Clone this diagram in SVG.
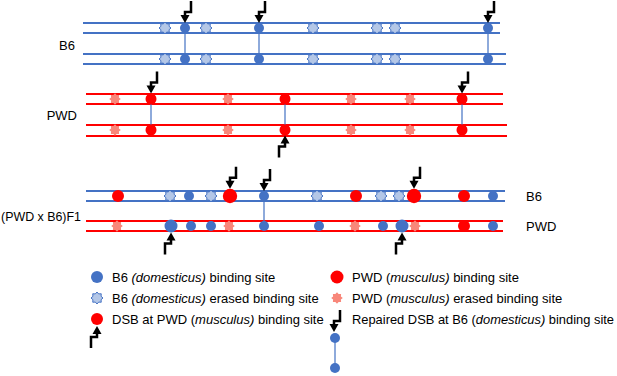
<svg xmlns="http://www.w3.org/2000/svg" xmlns:xlink="http://www.w3.org/1999/xlink" width="617" height="376" viewBox="0 0 617 376">
<style>
text{font-family:"Liberation Sans",Arial,sans-serif;font-size:13px;fill:#000}
.bl{stroke:#4472c4;stroke-width:2;fill:none}
.rl{stroke:#ff0000;stroke-width:2;fill:none}
.lk{stroke:#4472c4;stroke-width:1.2;fill:none}
.bc{fill:#4472c4}
.rc{fill:#ff0000}
</style>
<defs>
<polygon id="es" points="6,0 4.07,1.68 4.24,4.24 1.68,4.07 0,6 -1.68,4.07 -4.24,4.24 -4.07,1.68 -6,0 -4.07,-1.68 -4.24,-4.24 -1.68,-4.07 0,-6 1.68,-4.07 4.24,-4.24 4.07,-1.68" fill="#b4c7e7" stroke="#4472c4" stroke-width="1"/>
<polygon id="ps" points="5.8,0 3.9,1.6 4.1,4.1 1.6,3.9 0,5.8 -1.6,3.9 -4.1,4.1 -3.9,1.6 -5.8,0 -3.9,-1.6 -4.1,-4.1 -1.6,-3.9 0,-5.8 1.6,-3.9 4.1,-4.1 3.9,-1.6" fill="#f8877a"/>
<g id="au">
<polygon points="0,0 -4.5,8 4.5,8" fill="#000"/>
<path d="M0,7 V11 H-6 V22" fill="none" stroke="#000" stroke-width="2.5"/>
</g>
</defs>

<g id="b6-parent">
<path class="bl" d="M83,23 H500 M83,33 H500 M83,54 H506 M83,64 H506"/>
<text x="75" y="50" text-anchor="end" font-size="13.5">B6</text>
<g>
<use href="#es" x="165" y="28"/><use href="#es" x="206" y="28"/><use href="#es" x="313" y="28"/><use href="#es" x="377" y="28"/><use href="#es" x="395" y="28"/>
<use href="#es" x="165" y="59"/><use href="#es" x="206" y="59"/><use href="#es" x="313" y="59"/><use href="#es" x="377" y="59"/><use href="#es" x="395" y="59"/>
</g>
</g>

<g id="pwd-parent">
<path class="rl" d="M86,94 H503 M86,104 H503 M86,125 H507 M86,136 H507"/>
<text x="77" y="120" text-anchor="end" font-size="13.5">PWD</text>
<g>
<use href="#ps" x="115" y="99"/><use href="#ps" x="228" y="99"/><use href="#ps" x="351" y="99"/><use href="#ps" x="410" y="99"/>
<use href="#ps" x="115" y="130"/><use href="#ps" x="228" y="130"/><use href="#ps" x="351" y="130"/><use href="#ps" x="410" y="130"/>
</g>
</g>

<g id="f1-hybrid">
<path class="bl" d="M86,191 H505 M86,201 H505"/>
<path class="rl" d="M86,221 H503 M86,231 H503"/>
<text x="1" y="221" textLength="80" lengthAdjust="spacingAndGlyphs" font-size="13.5">(PWD x B6)F1</text>
<text x="526" y="201" font-size="13.5">B6</text>
<text x="526" y="231" font-size="13.5">PWD</text>
<g>
<use href="#es" x="170" y="196"/><use href="#es" x="211" y="196"/><use href="#es" x="317" y="196"/><use href="#es" x="381" y="196"/><use href="#es" x="399" y="196"/>
<use href="#ps" x="117" y="226"/><use href="#ps" x="229" y="226"/><use href="#ps" x="355" y="226"/><use href="#ps" x="415" y="226"/>
</g>
</g>

<g id="connectors">
<path class="lk" d="M185,28 V59 M259,28 V59 M488,28 V59 M151,99 V130 M285,99 V130 M462,99 V130 M264,196 V226 M335,338 V368"/>
</g>

<g id="binding-sites">
<circle class="bc" cx="185" cy="28" r="5"/><circle class="bc" cx="259" cy="28" r="5"/><circle class="bc" cx="488" cy="28" r="5"/>
<circle class="bc" cx="185" cy="59" r="5"/><circle class="bc" cx="259" cy="59" r="5"/><circle class="bc" cx="488" cy="59" r="5"/>
<circle class="rc" cx="151" cy="99" r="5.5"/><circle class="rc" cx="285" cy="99" r="5.5"/><circle class="rc" cx="462" cy="99" r="5.5"/>
<circle class="rc" cx="151" cy="130" r="5.5"/><circle class="rc" cx="285" cy="130" r="5.5"/><circle class="rc" cx="462" cy="130" r="5.5"/>
<circle class="rc" cx="118" cy="196" r="6"/>
<circle class="bc" cx="189" cy="196" r="5"/>
<circle class="rc" cx="230" cy="196" r="7.2"/>
<circle class="bc" cx="264" cy="196" r="5"/>
<circle class="rc" cx="356" cy="196" r="6"/>
<circle class="rc" cx="414" cy="196" r="7.2"/>
<circle class="rc" cx="464" cy="196" r="6"/>
<circle class="bc" cx="493" cy="196" r="5"/>
<circle class="bc" cx="171" cy="226" r="6.5"/>
<circle class="bc" cx="191" cy="226" r="5"/>
<circle class="bc" cx="211" cy="226" r="5"/>
<circle class="bc" cx="264" cy="226" r="5"/>
<circle class="bc" cx="319" cy="226" r="5"/>
<circle class="bc" cx="383" cy="226" r="5"/>
<circle class="bc" cx="402" cy="226" r="6.5"/>
<circle class="rc" cx="464" cy="226" r="6"/>
<circle class="bc" cx="493" cy="226" r="5"/>
</g>

<g id="dsb-arrows">
<use href="#au" transform="translate(185,23) rotate(180)"/>
<use href="#au" transform="translate(259,23) rotate(180)"/>
<use href="#au" transform="translate(488,23) rotate(180)"/>
<use href="#au" transform="translate(151,93.5) rotate(180)"/>
<use href="#au" transform="translate(462,93.5) rotate(180)"/>
<use href="#au" transform="translate(285,135.5)"/>
<use href="#au" transform="translate(230,188.8) rotate(180)"/>
<use href="#au" transform="translate(264,191) rotate(180)"/>
<use href="#au" transform="translate(414,188.8) rotate(180)"/>
<use href="#au" transform="translate(171,232.5)"/>
<use href="#au" transform="translate(402,232.5)"/>
</g>

<g id="legend">
<circle class="bc" cx="97" cy="277" r="6"/>
<text x="112" y="282">B6 <tspan font-style="italic">(domesticus)</tspan> binding site</text>
<use href="#es" x="97" y="298"/>
<text x="112" y="303">B6 <tspan font-style="italic">(domesticus)</tspan> erased binding site</text>
<circle class="rc" cx="97" cy="319" r="6"/>
<use href="#au" transform="translate(97,326)"/>
<text x="112" y="324">DSB at PWD (<tspan font-style="italic">musculus)</tspan> binding site</text>
<circle class="rc" cx="337" cy="277" r="6.5"/>
<text x="352" y="282">PWD (<tspan font-style="italic">musculus)</tspan> binding site</text>
<use href="#ps" x="337" y="298"/>
<text x="352" y="303">PWD (<tspan font-style="italic">musculus)</tspan> erased binding site</text>
<use href="#au" transform="translate(334,332) rotate(180)"/>
<circle class="bc" cx="335" cy="338" r="5"/>
<circle class="bc" cx="335" cy="368" r="5"/>
<text x="352" y="324" textLength="262" lengthAdjust="spacingAndGlyphs">Repaired DSB at B6 (<tspan font-style="italic">domesticus)</tspan> binding site</text>
</g>
</svg>
